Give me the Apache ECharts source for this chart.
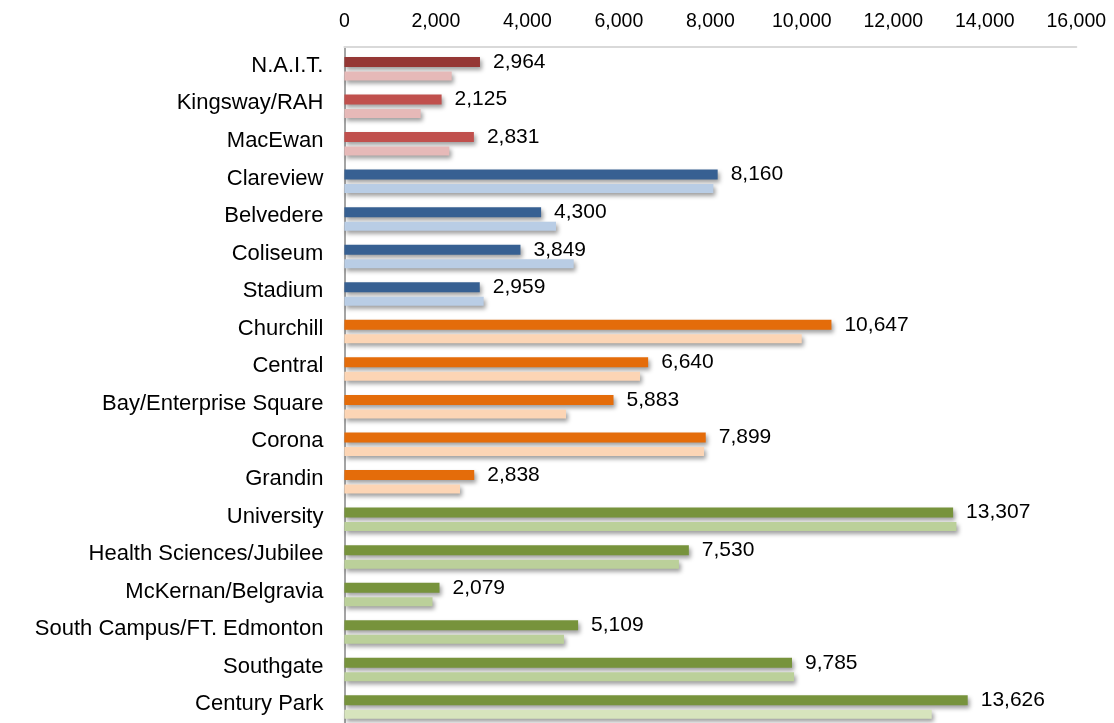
<!DOCTYPE html>
<html>
<head>
<meta charset="utf-8">
<script src="https://cdn.jsdelivr.net/npm/echarts@6/dist/echarts.min.js"></script>
<style>
html,body{margin:0;padding:0;background:#fff;}
#chart{width:1114px;height:723px;}
</style>
</head>
<body>
<div id="chart"></div>
<script>
// Categories (top to bottom)
const stations = ["N.A.I.T.", "Kingsway/RAH", "MacEwan", "Clareview", "Belvedere", "Coliseum", "Stadium",
  "Churchill", "Central", "Bay/Enterprise Square", "Corona", "Grandin", "University",
  "Health Sciences/Jubilee", "McKernan/Belgravia", "South Campus/FT. Edmonton", "Southgate", "Century Park"];
// Labelled (dark) bar values
const primaryValues = [2964, 2125, 2831, 8160, 4300, 3849, 2959, 10647, 6640, 5883, 7899, 2838, 13307, 7530, 2079, 5109, 9785, 13626];
// Unlabelled (light) bar values
const secondaryValues = [2346, 1668, 2293, 8065, 4626, 5013, 3045, 9998, 6463, 4845, 7862, 2527, 13379, 7313, 1926, 4800, 9830, 12840];
// Axis ticks
const axisMin = 0, axisMax = 16000, axisStep = 2000;

const darkColors = ["#953735", "#C0504D", "#C0504D", "#376092", "#376092", "#376092", "#376092",
  "#E46C0A", "#E46C0A", "#E46C0A", "#E46C0A", "#E46C0A", "#77933C", "#77933C", "#77933C", "#77933C", "#77933C", "#77933C"];
const lightColors = ["#E6B9B8", "#E6B9B8", "#E6B9B8", "#B9CDE5", "#B9CDE5", "#B9CDE5", "#B9CDE5",
  "#FCD5B5", "#FCD5B5", "#FCD5B5", "#FCD5B5", "#FCD5B5", "#BBD09A", "#BBD09A", "#BBD09A", "#BBD09A", "#BBD09A", "#D7E4BD"];

const fmt = v => Number(v).toLocaleString('en-US');
const FONT = '"Liberation Sans", Arial, sans-serif';
const shadow = {shadowBlur: 4, shadowOffsetX: 2, shadowOffsetY: 3, shadowColor: 'rgba(0,0,0,0.38)'};

const chart = echarts.init(document.getElementById('chart'), null, {renderer: 'canvas'});
chart.setOption({
  animation: false,
  backgroundColor: '#ffffff',
  grid: {left: 344.4, right: 37.7, top: 47, bottom: -1.7, containLabel: false},
  xAxis: {
    type: 'value', position: 'top', min: axisMin, max: axisMax, interval: axisStep,
    axisLine: {show: true, lineStyle: {color: '#D9D9D9', width: 2}},
    axisTick: {show: false},
    splitLine: {show: false},
    axisLabel: {formatter: fmt, color: '#000', fontSize: 19.5, fontFamily: FONT, margin: 15}
  },
  yAxis: {
    type: 'category', inverse: true, data: stations,
    axisLine: {show: true, lineStyle: {color: '#868686', width: 1.5}},
    axisTick: {show: false},
    axisLabel: {color: '#000', fontSize: 22, fontFamily: FONT, margin: 21}
  },
  series: [
    {
      name: 'spacer', type: 'bar', barWidth: 4, barGap: '45%', silent: true,
      data: stations.map(() => 0),
      itemStyle: {color: 'rgba(0,0,0,0)'}
    },
    {
      name: 'primary', type: 'bar', barWidth: 10, barGap: '45%',
      data: primaryValues.map((v, i) => ({value: v, itemStyle: {color: darkColors[i]}})),
      itemStyle: shadow,
      label: {show: true, position: 'right', distance: 13, formatter: p => fmt(p.value),
        color: '#000', fontSize: 21, fontFamily: FONT}
    },
    {
      name: 'secondary', type: 'bar', barWidth: 9, barGap: '45%',
      data: secondaryValues.map((v, i) => ({value: v, itemStyle: {color: lightColors[i]}})),
      itemStyle: shadow
    }
  ]
});
</script>
</body>
</html>
